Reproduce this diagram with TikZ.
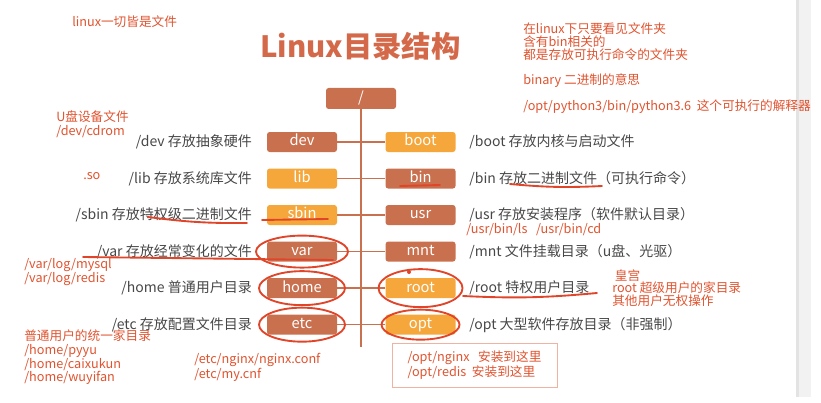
\documentclass[tikz,border=0pt]{standalone}
\usepackage{fontspec}
\setmainfont{Noto Sans CJK SC}
\usepackage{xcolor}
\usepackage{tikz}
\usetikzlibrary{positioning}
\definecolor{boxdark}{HTML}{C9704F}
\definecolor{boxlight}{HTML}{F5A73B}
\definecolor{desctext}{HTML}{474747}
\definecolor{notered}{HTML}{E0532F}
\definecolor{penred}{HTML}{E0452A}
\definecolor{titlecol}{HTML}{D4694A}
\tikzstyle{darkbox} = [rectangle, rounded corners=2pt,
minimum width=52.5pt,
minimum height=15pt,
inner sep=0pt,
text height=7.6pt, text depth=1.8pt,
fill=boxdark, text=white,
font=\fontsize{11}{11}\selectfont]
\tikzstyle{lightbox} = [darkbox, fill=boxlight]
\tikzstyle{desc} = [inner sep=0pt, text=desctext,
font=\fontsize{10.5}{10.5}\selectfont]
\tikzstyle{note} = [inner sep=0pt, text=notered, align=left, anchor=west,
font=\fontsize{9.5}{10.5}\selectfont]
\tikzstyle{branch} = [draw=boxdark, line width=1.1pt]
\tikzstyle{redpen} = [draw=penred, line width=1.4pt, line cap=round]

\begin{document}
\begin{tikzpicture}[x=0.75pt, y=-0.75pt]
	\useasboundingbox (0,0) rectangle (821,403);
	% scroll band on the right
	\fill[gray!10] (796,0) rectangle (811,397);
	\fill[gray!22] (796,0) rectangle (799,397);
	
	\node (title) [text=titlecol, font=\fontsize{22}{22}\selectfont\bfseries] at (360.5,46) {Linux目录结构};
	
	\node (root)[darkbox, minimum height=15.75pt] at (361,98.5) {/};
	
	% left column
	\node (dev)[darkbox] at (302,142) {dev};
	\node (lib)[lightbox, below=12pt of dev] {lib};
	\node (sbin)[lightbox, below=12pt of lib] {sbin};
	\node (var)[darkbox, below=12pt of sbin] {var};
	\node (home)[darkbox, below=12pt of var] {home};
	\node (etc)[darkbox, below=12pt of home] {etc};
	
	% right column
	\node (boot)[lightbox, right=36pt of dev] {boot};
	\node (bin)[darkbox, right=36pt of lib] {bin};
	\node (usr)[darkbox, right=36pt of sbin] {usr};
	\node (mnt)[darkbox, right=36pt of var] {mnt};
	\node (rootdir)[lightbox, right=36pt of home] {root};
	\node (opt)[lightbox, right=36pt of etc] {opt};
	
	\coordinate (trunkEnd) at (361,347);
	\draw [branch] (root) -- (trunkEnd);
	\draw [branch] (dev) -- (boot);
	\draw [branch] (lib) -- (bin);
	\draw [branch] (sbin) -- (usr);
	\draw [branch] (var) -- (mnt);
	\draw [branch] (home) -- (rootdir);
	\draw [branch] (etc) -- (opt);
	
	% descriptions
	\node (devText)[desc, left=11pt of dev] {/dev 存放抽象硬件};
	\node (libText)[desc, left=11pt of lib] {/lib 存放系统库文件};
	\node (sbinText)[desc, left=11pt of sbin] {/sbin 存放特权级二进制文件};
	\node (varText)[desc, left=11pt of var] {/var 存放经常变化的文件};
	\node (homeText)[desc, left=11pt of home] {/home 普通用户目录};
	\node (etcText)[desc, left=11pt of etc] {/etc 存放配置文件目录};
	\node (bootText)[desc, right=10pt of boot] {/boot 存放内核与启动文件};
	\node (binText)[desc, right=10pt of bin] {/bin 存放二进制文件（可执行命令）};
	\node (usrText)[desc, right=10pt of usr] {/usr 存放安装程序（软件默认目录）};
	\node (mntText)[desc, right=10pt of mnt] {/mnt 文件挂载目录（u盘、光驱）};
	\node (rootText)[desc, right=10pt of rootdir] {/root 特权用户目录};
	\node (optText)[desc, right=10pt of opt] {/opt 大型软件存放目录（非强制）};
	
	% notes
	\node (allFiles)[note] at (72,22) {linux一切皆是文件};
	\node (binNote)[note, font=\fontsize{9.5}{9.6}\selectfont] at (523,41.5) {在linux下只要看见文件夹\\含有bin相关的\\都是存放可执行命令的文件夹};
	\node (binary)[note] at (523,81) {binary 二进制的意思};
	\node (python)[note] at (523,107) {/opt/python3/bin/python3.6\ \ 这个可执行的解释器};
	\node (devNote)[note] at (56,124) {U盘设备文件\\/dev/cdrom};
	\node (soNote)[note] at (83,176) {.so};
	\node (usrNote)[note] at (466,230) {/usr/bin/ls\ \ \ /usr/bin/cd};
	\node (varNote)[note] at (24,272) {/var/log/mysql\\/var/log/redis};
	\node (rootNote)[note, font=\fontsize{9.5}{9.2}\selectfont] at (612,288) {\hspace*{2pt}皇宫\\root 超级用户的家目录\\其他用户无权操作};
	\node (homeNote)[note, font=\fontsize{9.5}{10.3}\selectfont] at (24,357.5) {普通用户的统一家目录\\/home/pyyu\\/home/caixukun\\/home/wuyifan};
	\node (etcNote)[note, font=\fontsize{9.5}{9.8}\selectfont] at (194,367.5) {/etc/nginx/nginx.conf\\/etc/my.cnf};
	\node (optNote)[note, anchor=center, draw=notered!45, line width=0.5pt,
		minimum width=123.75pt, minimum height=33pt,
		font=\fontsize{9.5}{11}\selectfont] at (474.5,365) {/opt/nginx\ \ \ 安装到这里\\/opt/redis\ \ 安装到这里};
	
	% hand-drawn marks
	\draw [redpen] (var) ellipse [x radius=46, y radius=16];
	\draw [redpen] (home) ellipse [x radius=43, y radius=17];
	\draw [redpen] (etc) ellipse [x radius=43, y radius=17];
	\draw [redpen] (rootdir) ellipse [x radius=42, y radius=19];
	\draw [redpen] (opt) ellipse [x radius=39, y radius=15];
	\fill [penred] (409,272) circle [radius=2];
	\draw [redpen] (400,186) -- (440,185);
	\draw [redpen] (510,184) to[bend right=4] (602,186);
	\draw [redpen] (148,217) to[bend right=4] (247,223);
	\draw [redpen] (262,220) -- (328,219);
	\draw [redpen] (83,257) -- (333,260);
	\draw [redpen] (463,296) to[bend right=4] (597,293);
\end{tikzpicture}
\end{document}
